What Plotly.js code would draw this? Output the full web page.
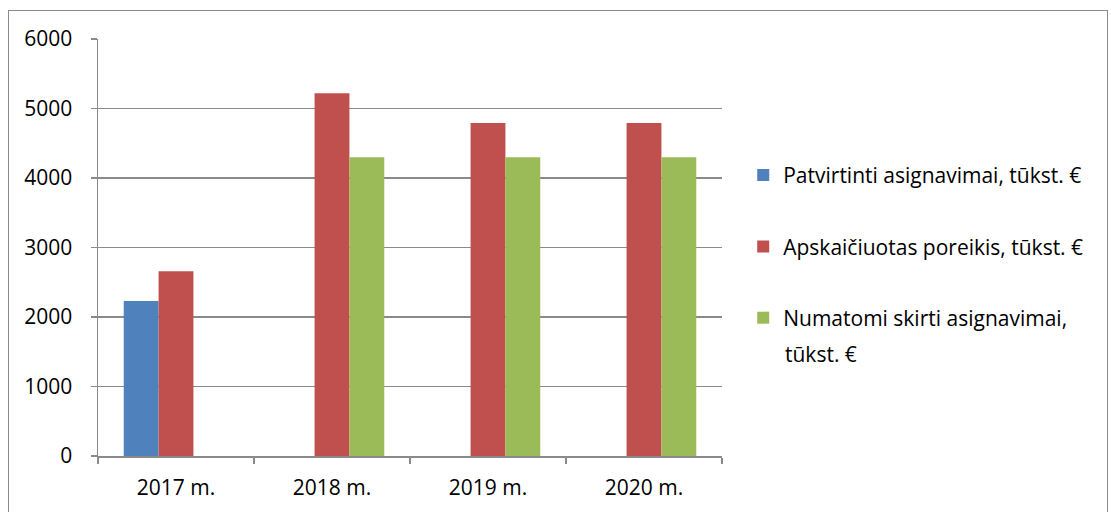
<!DOCTYPE html>
<html>
<head>
<meta charset="utf-8">
<script src="https://cdn.plot.ly/plotly-3.0.1.min.js"></script>
<style>
html,body{margin:0;padding:0;background:#fff;}
#wrap{position:relative;width:1111px;height:512px;overflow:hidden;}
#chart{position:absolute;left:0;top:0;width:1111px;height:512px;}
#frame{position:absolute;left:8px;top:10px;width:1100px;height:520px;border:1px solid #8a8a8a;box-sizing:border-box;pointer-events:none;}
</style>
</head>
<body>
<div id="wrap"><div id="chart"></div><div id="frame"></div></div>
<script>
const categories = ["2017 m.", "2018 m.", "2019 m.", "2020 m."];
const seriesNames = ["Patvirtinti asignavimai, tūkst. €", "Apskaičiuotas poreikis, tūkst. €", "Numatomi skirti asignavimai,"];
const legendContinuation = "tūkst. €";
const patvirtinti = [2230, null, null, null];
const poreikis = [2660, 5220, 4790, 4790];
const numatomi = [null, 4300, 4300, 4300];
const yTicks = [0, 1000, 2000, 3000, 4000, 5000, 6000];
const colors = ["#4F81BD", "#C0504D", "#9BBB59"];

const values = [patvirtinti, poreikis, numatomi];
const traces = values.map((v, i) => ({
  type: "bar",
  x: categories,
  y: v,
  name: seriesNames[i],
  legendgroup: "g" + i,
  marker: {color: colors[i], line: {width: 0}},
  hoverinfo: "x+y"
}));

const fam = "'Open Sans', Lato, sans-serif";
const font = {family: fam, size: 21, color: "#000"};
const layout = {
  width: 1111, height: 512,
  margin: {l: 98, r: 389, t: 39, b: 56},
  paper_bgcolor: "rgba(0,0,0,0)",
  plot_bgcolor: "rgba(0,0,0,0)",
  font: font,
  barmode: "group",
  bargap: 0.33,
  bargroupgap: 0,
  showlegend: true,
  legend: {
    x: 1.034, xanchor: "left", y: 0.722, yanchor: "top",
    traceorder: "grouped", tracegroupgap: 41,
    font: {family: fam, size: 21, color: "#000"},
    bgcolor: "rgba(0,0,0,0)"
  },
  annotations: [{
    text: legendContinuation, showarrow: false,
    xref: "paper", yref: "paper", x: 1.0978, y: 0.2446,
    xanchor: "left", yanchor: "middle",
    font: {family: fam, size: 21, color: "#000"}
  }],
  xaxis: {
    type: "category",
    tickson: "boundaries",
    ticks: "outside", ticklen: 6, tickcolor: "#8a8a8a", tickwidth: 1.5,
    showline: true, linecolor: "#8a8a8a", linewidth: 1.5,
    showgrid: false, zeroline: false,
    tickfont: font,
    ticklabelstandoff: 12
  },
  yaxis: {
    range: [0, 6000],
    tickvals: yTicks,
    ticktext: yTicks.map(String),
    ticks: "outside", ticklen: 6, tickcolor: "#8a8a8a", tickwidth: 1.5,
    showline: true, linecolor: "#8a8a8a", linewidth: 1.5,
    showgrid: true, gridcolor: "#8a8a8a", gridwidth: 1.5,
    zeroline: false,
    tickfont: font,
    ticklabelstandoff: 14
  }
};
Plotly.newPlot("chart", traces, layout, {displayModeBar: false, staticPlot: true});
</script>
</body>
</html>
